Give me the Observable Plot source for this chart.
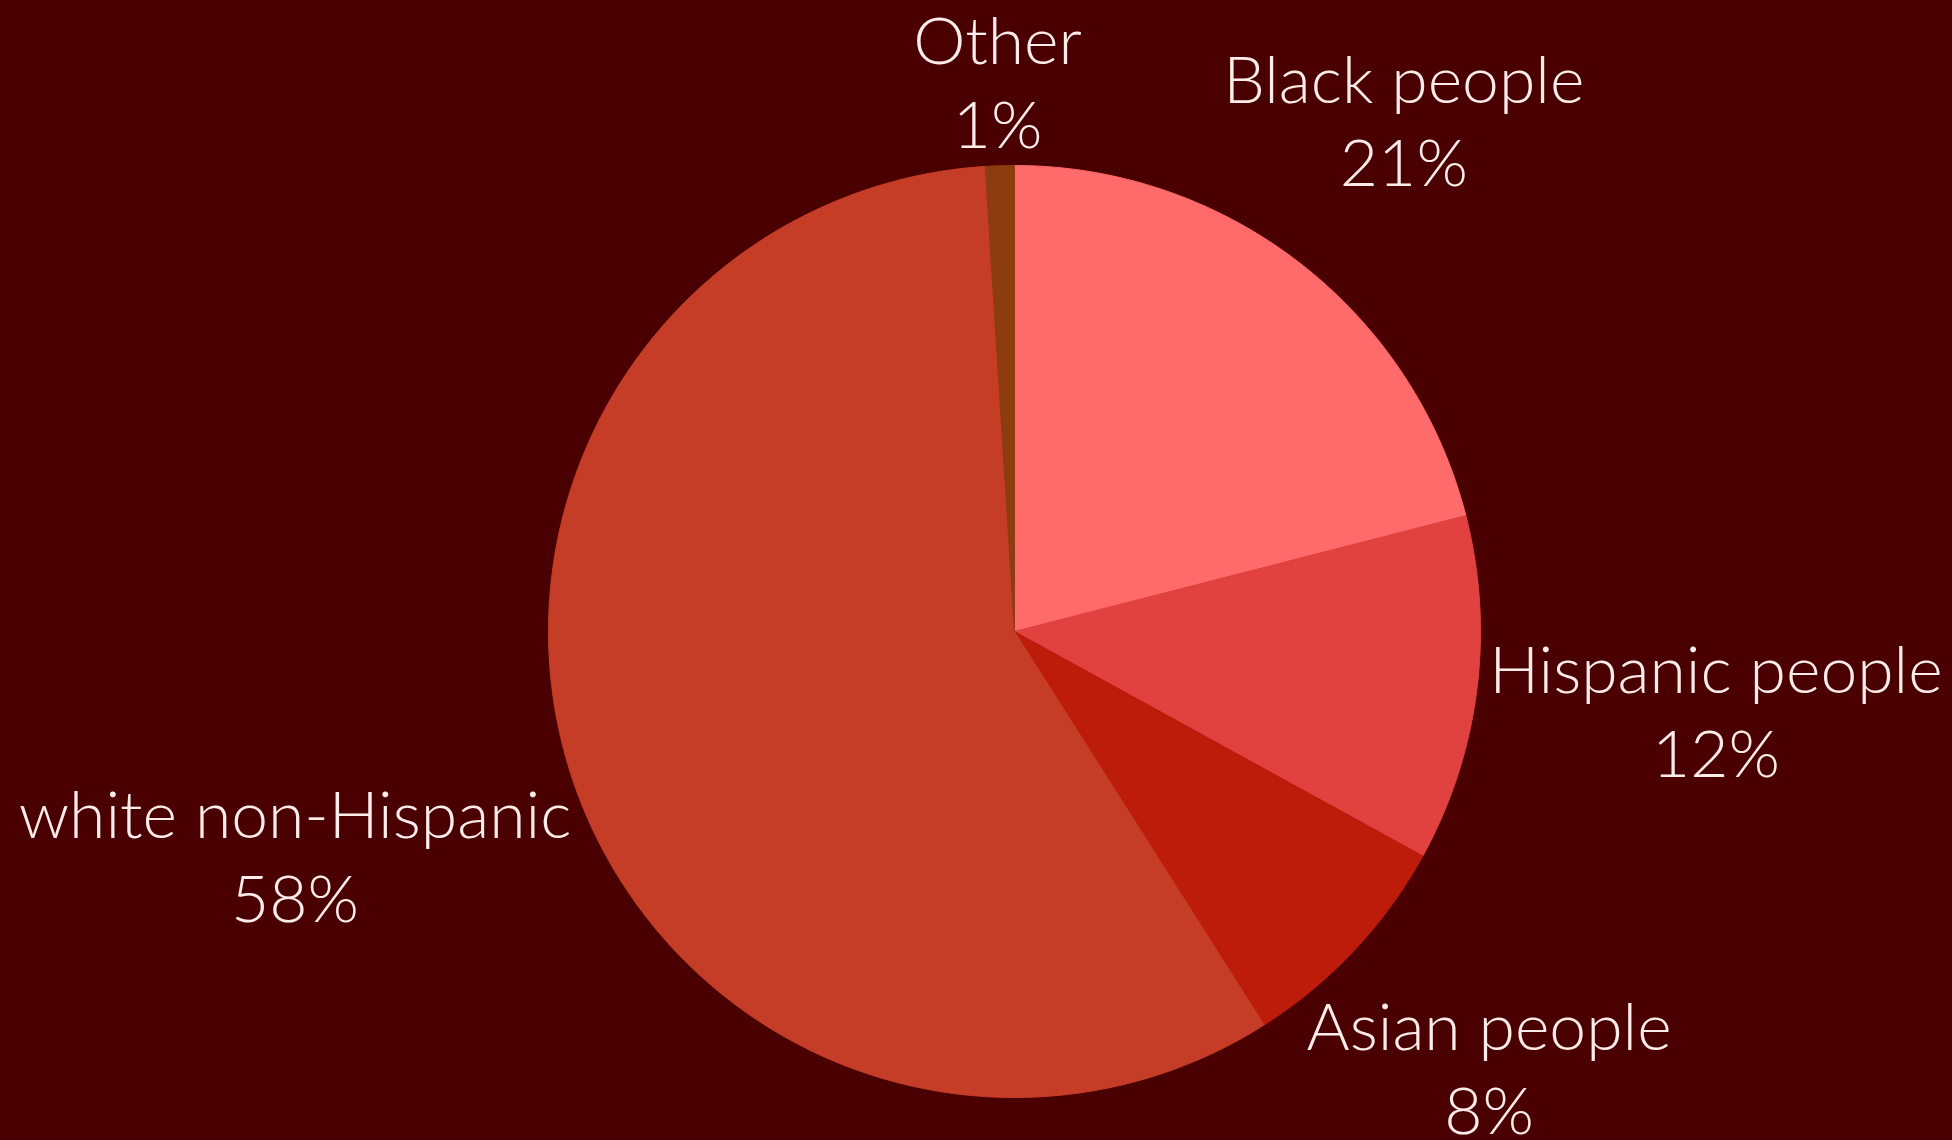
<!DOCTYPE html>
<html>
<head>
<meta charset="utf-8">
<script src="https://cdn.jsdelivr.net/npm/d3@7"></script>
<script src="https://cdn.jsdelivr.net/npm/@observablehq/plot@0.6"></script>
<style>
  html, body { margin: 0; padding: 0; background: #4a0000; overflow: hidden; }
  #chart svg { display: block; }
</style>
</head>
<body>
<div id="chart"></div>
<script>
// Data (clockwise from 12 o'clock)
const categories = ["Black people", "Hispanic people", "Asian people", "white non-Hispanic", "Other"];
const shares = [21, 12, 8, 58, 1];
const labels = ["21%", "12%", "8%", "58%", "1%"];
const colors = ["#ff6a6a", "#e1413f", "#bd1c0b", "#c53d26", "#8d3c10"];

// Layout
const W = 1952, H = 1140;
const R = 466;               // pie radius in px
const cx = 1014, cy = 631;   // pie centre in px
const fontSize = 66;
const fontWeight = 300;
const lineHeight = 1.27;
const fontFamily = "Lato";
const textColor = "#fdecea";

const total = d3.sum(shares);
let acc = 0;
const slices = categories.map((c, i) => {
  const a0 = acc / total * 2 * Math.PI;
  acc += shares[i];
  const a1 = acc / total * 2 * Math.PI;
  return {cat: c, value: shares[i], label: labels[i], color: colors[i], a0, a1};
});

// arc outline points (unit radius, y up, angle clockwise from top)
function arcPoints(s) {
  const pts = [{x: 0, y: 0}];
  const n = Math.max(4, Math.ceil((s.a1 - s.a0) / (Math.PI / 360)));
  for (let k = 0; k <= n; k++) {
    const a = s.a0 + (s.a1 - s.a0) * k / n;
    pts.push({x: Math.sin(a), y: Math.cos(a)});
  }
  pts.push({x: 0, y: 0});
  return pts;
}

// label placement outside the pie at mid-angle
const ctx = document.createElement("canvas").getContext("2d");
ctx.font = `${fontWeight} ${fontSize}px ${fontFamily}`;
const gap = 8;
const halfH = 64;
const labelData = slices.map(s => {
  const text = `${s.cat}\n${s.label}`;
  const w = Math.max(ctx.measureText(s.cat).width, ctx.measureText(s.label).width) / 2;
  const a = (s.a0 + s.a1) / 2;
  const ext = w * Math.abs(Math.sin(a)) + halfH * Math.abs(Math.cos(a));
  const r = (R + gap + ext) / R;
  return {text, x: Math.sin(a) * r, y: Math.cos(a) * r};
});

const chart = Plot.plot({
  width: W,
  height: H,
  margin: 0,
  x: {domain: [-cx / R, (W - cx) / R], axis: null},
  y: {domain: [-(H - cy) / R, cy / R], axis: null},
  style: {background: "#4a0000", fontFamily: fontFamily},
  marks: [
    ...slices.map(s => Plot.line(arcPoints(s), {
      x: "x", y: "y", fill: s.color, stroke: s.color, strokeWidth: 1, curve: "linear"
    })),
    Plot.text(labelData, {
      x: "x", y: "y", text: "text", dy: -12,
      fontSize: fontSize, fontWeight: fontWeight, lineHeight: lineHeight,
      fill: textColor, textAnchor: "middle", lineAnchor: "middle"
    })
  ]
});
document.getElementById("chart").appendChild(chart);
</script>
</body>
</html>
